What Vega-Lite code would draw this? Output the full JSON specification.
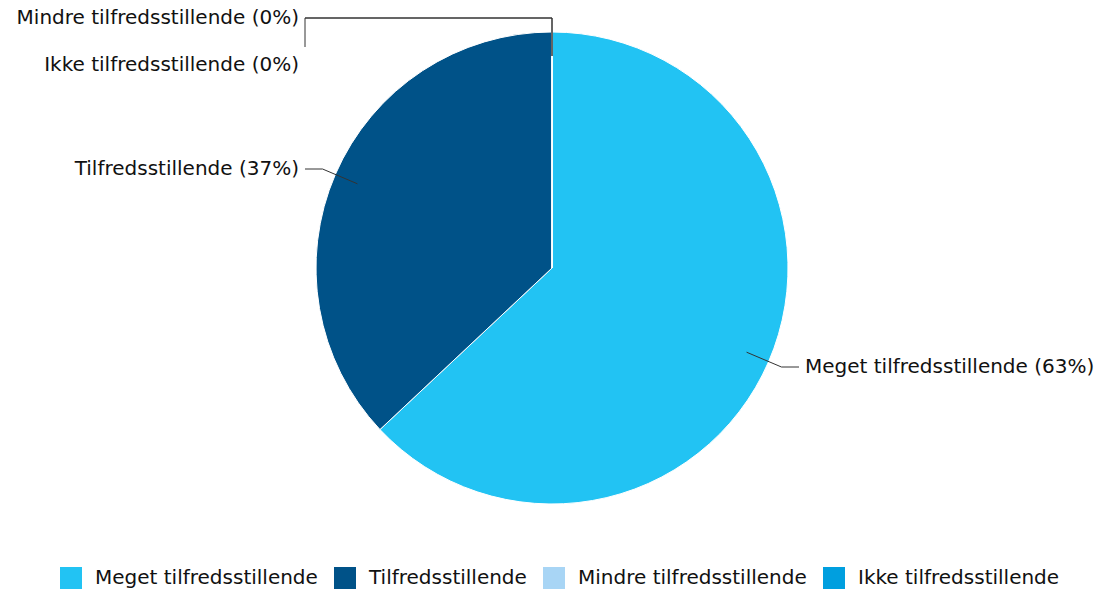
{
  "$schema": "https://vega.github.io/schema/vega-lite/v6.json",
  "width": 1104,
  "height": 536,
  "padding": 0,
  "autosize": {"type": "pad"},
  "background": "#ffffff",
  "config": {
    "view": {"stroke": null},
    "font": "DejaVu Sans",
    "text": {"font": "DejaVu Sans"}
  },
  "data": {
    "values": [
      {"category": "Meget tilfredsstillende", "value": 63},
      {"category": "Tilfredsstillende", "value": 37},
      {"category": "Mindre tilfredsstillende", "value": 0},
      {"category": "Ikke tilfredsstillende", "value": 0}
    ]
  },
  "transform": [
    {"window": [{"op": "row_number", "as": "idx"}, {"op": "sum", "field": "value", "as": "cum"}], "frame": [null, 0]},
    {"joinaggregate": [{"op": "sum", "field": "value", "as": "total"}]},
    {"calculate": "2*PI*(datum.cum - datum.value/2)/datum.total", "as": "mid"},
    {"calculate": "sin(datum.mid) > 0 ? 1 : -1", "as": "side"},
    {"calculate": "round(cos(datum.mid)*250)", "as": "ly0"},
    {"window": [{"op": "row_number", "as": "k"}], "groupby": ["ly0"], "sort": [{"field": "idx"}]},
    {"calculate": "datum.ly0 - (datum.k - 1)*47", "as": "ly"},
    {"calculate": "sin(datum.mid)*212", "as": "x1"},
    {"calculate": "cos(datum.mid)*212", "as": "y1"},
    {"calculate": "sin(datum.mid)*250", "as": "x2"},
    {"calculate": "datum.side*247", "as": "xh"},
    {"calculate": "datum.side*253", "as": "lx"},
    {"calculate": "datum.k > 1 ? datum.ly + 18 : datum.ly0", "as": "yv"},
    {"calculate": "datum.category + ' (' + format(datum.value/datum.total, '.0%') + ')'", "as": "label"}
  ],
  "layer": [
    {
      "mark": {"type": "arc", "radius": 236, "stroke": "#ffffff", "strokeWidth": 1},
      "encoding": {
        "theta": {"field": "value", "type": "quantitative", "stack": true},
        "order": {"field": "idx", "type": "quantitative"},
        "color": {
          "field": "category",
          "type": "nominal",
          "sort": null,
          "scale": {
            "domain": ["Meget tilfredsstillende", "Tilfredsstillende", "Mindre tilfredsstillende", "Ikke tilfredsstillende"],
            "range": ["#22C3F3", "#005288", "#A8D5F5", "#009FDF"]
          },
          "legend": {
            "title": null,
            "orient": "none",
            "legendX": 60,
            "legendY": 567,
            "direction": "horizontal",
            "columns": 4,
            "padding": 0,
            "symbolType": "square",
            "symbolSize": 484,
            "symbolStrokeWidth": 0,
            "symbolOpacity": 1,
            "labelFontSize": 20,
            "labelFont": "DejaVu Sans",
            "labelColor": "#111111",
            "labelOffset": 13,
            "columnPadding": 16,
            "labelLimit": 400
          }
        }
      }
    },
    {
      "mark": {"type": "rule", "color": "#333333", "strokeWidth": 1},
      "encoding": {
        "x": {"field": "x1", "type": "quantitative", "scale": {"domain": [-552, 552]}, "axis": null},
        "y": {"field": "y1", "type": "quantitative", "scale": {"domain": [-268, 268]}, "axis": null},
        "x2": {"field": "x2"},
        "y2": {"field": "ly0"}
      }
    },
    {
      "mark": {"type": "rule", "color": "#333333", "strokeWidth": 1},
      "encoding": {
        "x": {"field": "x2", "type": "quantitative", "scale": {"domain": [-552, 552]}, "axis": null},
        "y": {"field": "ly0", "type": "quantitative", "scale": {"domain": [-268, 268]}, "axis": null},
        "x2": {"field": "xh"}
      }
    },
    {
      "mark": {"type": "rule", "color": "#333333", "strokeWidth": 1},
      "encoding": {
        "x": {"field": "xh", "type": "quantitative", "scale": {"domain": [-552, 552]}, "axis": null},
        "y": {"field": "ly0", "type": "quantitative", "scale": {"domain": [-268, 268]}, "axis": null},
        "y2": {"field": "yv"}
      }
    },
    {
      "transform": [{"filter": "datum.side > 0"}],
      "mark": {"type": "text", "align": "left", "baseline": "middle", "fontSize": 20, "color": "#111111"},
      "encoding": {
        "x": {"field": "lx", "type": "quantitative", "scale": {"domain": [-552, 552]}, "axis": null},
        "y": {"field": "ly", "type": "quantitative", "scale": {"domain": [-268, 268]}, "axis": null},
        "text": {"field": "label"}
      }
    },
    {
      "transform": [{"filter": "datum.side < 0"}],
      "mark": {"type": "text", "align": "right", "baseline": "middle", "fontSize": 20, "color": "#111111"},
      "encoding": {
        "x": {"field": "lx", "type": "quantitative", "scale": {"domain": [-552, 552]}, "axis": null},
        "y": {"field": "ly", "type": "quantitative", "scale": {"domain": [-268, 268]}, "axis": null},
        "text": {"field": "label"}
      }
    }
  ]
}
